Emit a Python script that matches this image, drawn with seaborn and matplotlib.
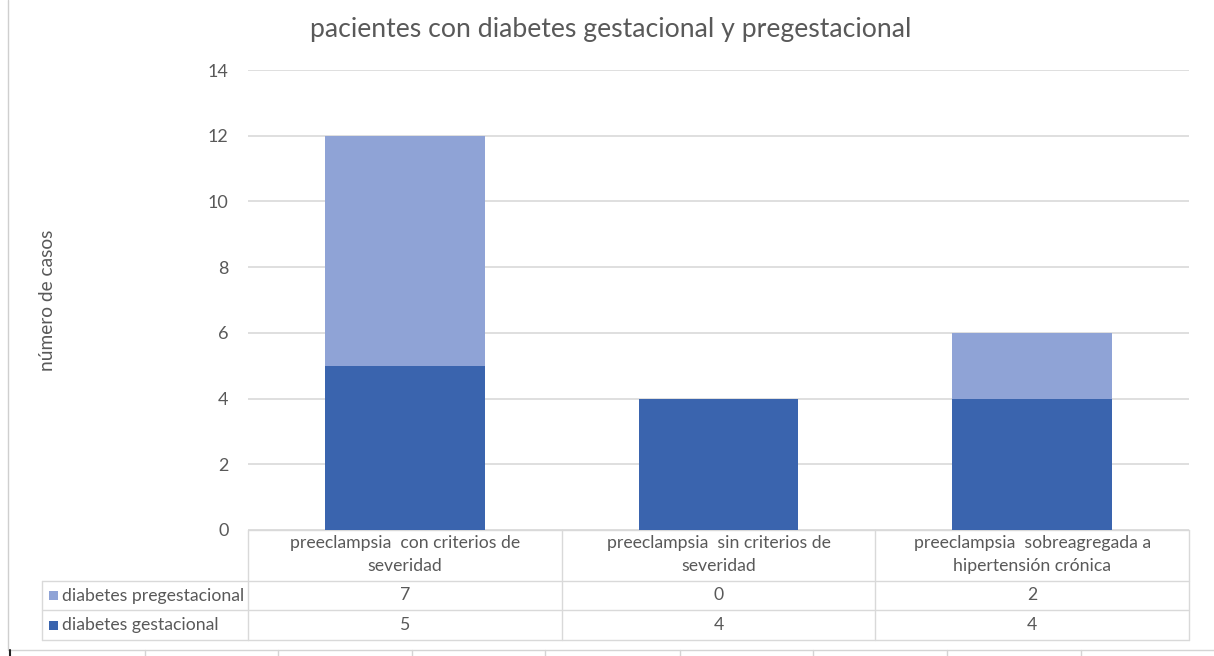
import matplotlib
matplotlib.use("Agg")
import matplotlib.pyplot as plt
import matplotlib.transforms as mtransforms
from matplotlib.lines import Line2D
from matplotlib.patches import Rectangle
import seaborn as sns
import pandas as pd

# ---- data -------------------------------------------------------------
categories = [
    "preeclampsia  con criterios de\nseveridad",
    "preeclampsia  sin criterios de\nseveridad",
    "preeclampsia  sobreagregada a\nhipertensión crónica",
]
series_names = ["diabetes pregestacional", "diabetes gestacional"]
pregestacional = [7, 0, 2]
gestacional = [5, 4, 4]
y_ticks = [0, 2, 4, 6, 8, 10, 12, 14]

title = "pacientes con diabetes gestacional y pregestacional"
y_label = "número de casos"

# ---- style ------------------------------------------------------------
sns.set_theme(style="white")
plt.rcParams["font.family"] = ["Lato", "DejaVu Sans"]

DARK = "#3A64AE"
LIGHT = "#8FA3D6"
TEXT = "#595959"
GRID = "#D9D9D9"
FS_TABLE = 12.7

W, H = 1214, 656
fig = plt.figure(figsize=(W / 100, H / 100), dpi=100)
fig.patch.set_facecolor("white")


def fx(px):
    return px / W


def fy(py):
    return 1 - py / H


ax = fig.add_axes([fx(248), fy(530), fx(1189) - fx(248), fy(70) - fy(530)])

df = pd.DataFrame({
    "cat": categories,
    "gest": gestacional,
    "total": [g + p for g, p in zip(gestacional, pregestacional)],
})

# stacked bars: total first (light), gestacional on top of it (dark)
sns.barplot(data=df, x="cat", y="total", color=LIGHT, width=0.51,
            saturation=1, linewidth=0, ax=ax, zorder=3)
sns.barplot(data=df, x="cat", y="gest", color=DARK, width=0.51,
            saturation=1, linewidth=0, ax=ax, zorder=4)

ax.set_xlim(-0.5, len(categories) - 0.5)
ax.set_ylim(0, 14)
ax.set_yticks(y_ticks)
ax.set_yticklabels([str(v) for v in y_ticks], color=TEXT, fontsize=13)
ax.tick_params(axis="y", length=0, pad=14)
ax.set_xticks([])
ax.set_xlabel("")
ax.set_ylabel("")
ax.yaxis.grid(True, color=GRID, linewidth=1.2, zorder=0)
ax.set_axisbelow(True)
for s in ax.spines.values():
    s.set_visible(False)

fig.text(fx(611), fy(29), title, ha="center", va="center",
         fontsize=19.2, color=TEXT)
fig.text(fx(48), fy(300), y_label, ha="center", va="center",
         rotation=90, fontsize=13.8, color=TEXT)

# ---- data table under the plot ----------------------------------------
tr = mtransforms.blended_transform_factory(ax.transData, fig.transFigure)
row_y = [fy(530), fy(581), fy(610), fy(640)]
n = len(categories)
x0, x1 = -0.5, n - 0.5
legend_left = fx(42)

lw = 1.0
# horizontal rules across category columns
for yy in row_y:
    ax.add_line(Line2D([x0, x1], [yy, yy], transform=tr, color=GRID,
                       lw=lw, clip_on=False))
# horizontal rules across the legend column (data rows only)
for yy in row_y[1:]:
    fig.add_artist(Line2D([legend_left, fx(248)], [yy, yy], color=GRID, lw=lw))
fig.add_artist(Line2D([legend_left, legend_left], [row_y[1], row_y[3]],
                      color=GRID, lw=lw))
# vertical rules between category columns
for k in range(n + 1):
    xx = k - 0.5
    ax.add_line(Line2D([xx, xx], [row_y[0], row_y[3]], transform=tr,
                       color=GRID, lw=lw, clip_on=False))

# category header cells
for i, c in enumerate(categories):
    ax.text(i, (row_y[0] + row_y[1]) / 2 + 1 / H, c, transform=tr,
            ha="center", va="center", fontsize=FS_TABLE, color=TEXT,
            linespacing=1.5)

# value rows
rows = [(series_names[0], LIGHT, pregestacional),
        (series_names[1], DARK, gestacional)]
for r, (name, col, vals) in enumerate(rows):
    yc = (row_y[r + 1] + row_y[r + 2]) / 2
    fig.add_artist(Rectangle((fx(49), yc - 4.5 / H), 9 / W, 9 / H,
                             facecolor=col, edgecolor="none"))
    fig.text(fx(62), yc, name, ha="left", va="center", fontsize=FS_TABLE,
             color=TEXT)
    for i, v in enumerate(vals):
        ax.text(i, yc, str(v), transform=tr, ha="center", va="center",
                fontsize=FS_TABLE, color=TEXT)

# ---- surrounding sheet lines ------------------------------------------
fig.add_artist(Line2D([fx(8), fx(8)], [fy(0), fy(650)], color="#CFCFCF", lw=1))
fig.add_artist(Line2D([fx(10), 1], [fy(650), fy(650)], color="#D4D4D4", lw=1))
fig.add_artist(Line2D([fx(10), fx(10)], [fy(650), 0], color="#222222", lw=1.5))
for px in [145, 278, 412, 545, 680, 813, 947, 1081]:
    fig.add_artist(Line2D([fx(px), fx(px)], [fy(650), 0], color="#D4D4D4", lw=1))

fig.savefig("out.png", dpi=100, facecolor="white")
